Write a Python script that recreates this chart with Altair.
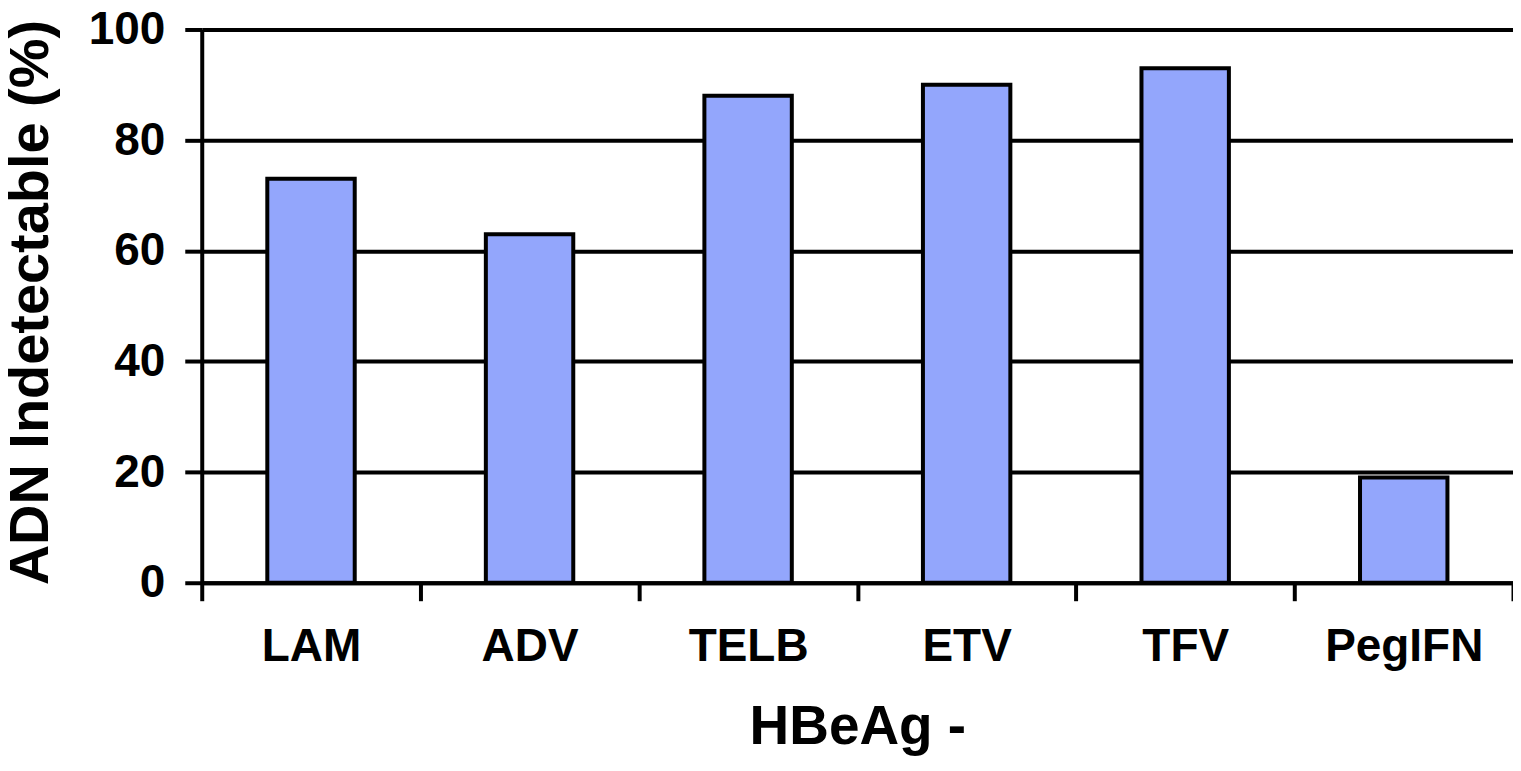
import altair as alt
import pandas as pd

categories = ["LAM", "ADV", "TELB", "ETV", "TFV", "PegIFN"]
values = [73, 63, 88, 90, 93, 19]
y_ticks = [0, 20, 40, 60, 80, 100]

df = pd.DataFrame({"drug": categories, "pct": values})

FONT = "Liberation Sans"

chart = (
    alt.Chart(df)
    .mark_bar(
        width=alt.RelativeBandSize(0.4),
        fill="#93A6FC",
        stroke="black",
        strokeWidth=4,
    )
    .encode(
        x=alt.X(
            "drug:N",
            sort=categories,
            scale=alt.Scale(paddingInner=0, paddingOuter=0),
            axis=alt.Axis(
                title="HBeAg -",
                labelAngle=0,
                labelFont=FONT,
                labelFontSize=46,
                labelFontWeight="bold",
                labelColor="black",
                labelPadding=24,
                tickBand="extent",
                tickSize=18,
                tickWidth=4,
                tickColor="black",
                domainColor="black",
                domainWidth=4,
                titleFont=FONT,
                titleFontSize=55,
                titleFontWeight="bold",
                titleColor="black",
                titleBaseline="alphabetic",
                titleY=161,
                grid=False,
            ),
        ),
        y=alt.Y(
            "pct:Q",
            scale=alt.Scale(domain=[0, 100], nice=False),
            axis=alt.Axis(
                title="ADN Indetectable (%)",
                values=y_ticks,
                labelFont=FONT,
                labelFontSize=46,
                labelFontWeight="bold",
                labelColor="black",
                labelPadding=20,
                tickSize=17,
                tickWidth=4,
                tickColor="black",
                domainColor="black",
                domainWidth=4,
                grid=True,
                gridColor="black",
                gridWidth=4,
                gridOpacity=1,
                titleFont=FONT,
                titleFontSize=56,
                titleFontWeight="bold",
                titleColor="black",
                titleBaseline="alphabetic",
                titleX=-154,
                titleY=273,
                titleAlign="center",
                titleAngle=-90,
            ),
        ),
    )
    .properties(
        width=1313,
        height=554,
        autosize=alt.AutoSizeParams(type="none"),
        padding={"left": 194, "top": 21, "right": 0, "bottom": 180},
    )
    .configure_view(stroke=None)
    .configure(background="white")
)

chart.save("out.html", embed_options={"renderer": "svg", "actions": False})
